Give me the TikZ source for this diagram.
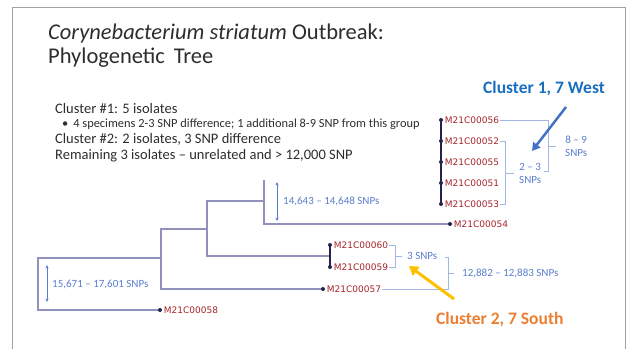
\documentclass[tikz,border=0pt]{standalone}
\usepackage{fontspec}
\setmainfont{Carlito}
\newfontfamily\leaffont{DejaVu Sans}
\usetikzlibrary{arrows.meta,positioning,backgrounds}
\definecolor{treeline}{RGB}{145,145,190}
\definecolor{navy}{RGB}{35,35,75}
\definecolor{leafred}{RGB}{165,35,40}
\definecolor{snpblue}{RGB}{90,125,205}
\definecolor{westblue}{RGB}{25,110,190}
\definecolor{westarrow}{RGB}{68,114,196}
\definecolor{southorange}{RGB}{237,125,49}
\definecolor{southarrow}{RGB}{255,192,0}
\definecolor{frame}{RGB}{160,160,160}
\definecolor{ink}{RGB}{45,45,45}
\tikzset{
    branch/.style = {
        draw=treeline,
        line width=1.3pt,
        },
    cluster/.style = {
        draw=navy,
        line width=1.3pt,
        },
    tip/.style = {
        circle,
        fill=navy,
        inner sep=0pt,
        minimum size=4pt,
        },
    leaf/.style = {
        text=leafred,
        font=\leaffont\fontsize{9}{10}\selectfont,
        inner sep=0.5pt,
        },
    snp/.style = {
        text=snpblue,
        font=\fontsize{11}{13}\selectfont,
        anchor=west,
        inner sep=0pt,
        align=center,
        },
    bracket/.style = {
        draw=snpblue!55,
        line width=0.7pt,
        },
    span/.style = {
        draw=snpblue,
        line width=0.7pt,
        {Stealth[length=3.5pt,width=3pt]}-{Stealth[length=3.5pt,width=3pt]},
        },
    note/.style = {
        anchor=base west,
        inner sep=0pt,
        text=ink,
        font=\fontsize{14.5}{16}\selectfont,
        },
    callout/.style = {
        anchor=base west,
        inner sep=0pt,
        font=\bfseries\fontsize{17.5}{20}\selectfont,
        },
}
\begin{document}
\begin{tikzpicture}[x=1pt,y=-1pt]
    \useasboundingbox (0,0) rectangle (627,349);
    \draw[frame, line width=0.8pt] (12,349) |- (625,7) -- (625,349);

    % title and notes
    \node[note, font=\fontsize{22.5}{26}\selectfont] (title1) at (48,39) {\textit{Corynebacterium striatum} Outbreak:};
    \node[note, font=\fontsize{22.5}{26}\selectfont] (title2) at (48,63) {Phylogenetic\, Tree};
    \node[note] (note1) at (55,113) {Cluster \#1: 5 isolates};
    \node[note, font=\fontsize{12.4}{14}\selectfont] (note2) at (62,127) {\textbullet\hspace{5pt}4 specimens 2-3 SNP difference; 1 additional 8-9 SNP from this group};
    \node[note] (note3) at (55,143) {Cluster \#2: 2 isolates, 3 SNP difference};
    \node[note] (note4) at (55,159) {Remaining 3 isolates -- unrelated and > 12,000 SNP};

    % tips
    \node[tip] (t56) at (441,120) {};
    \node[tip] (t52) at (441,141) {};
    \node[tip] (t55) at (441,162) {};
    \node[tip] (t51) at (441,183) {};
    \node[tip] (t53) at (441,204) {};
    \node[tip] (t54) at (450,224) {};
    \node[tip] (t60) at (330,245) {};
    \node[tip] (t59) at (330,267) {};
    \node[tip] (t57) at (323,289) {};
    \node[tip] (t58) at (160,310) {};

    \node[leaf, right=1pt of t56] (m56) {M21C00056};
    \node[leaf, right=1pt of t52] (m52) {M21C00052};
    \node[leaf, right=1pt of t55] (m55) {M21C00055};
    \node[leaf, right=1pt of t51] (m51) {M21C00051};
    \node[leaf, right=1pt of t53] (m53) {M21C00053};
    \node[leaf, right=1pt of t54] (m54) {M21C00054};
    \node[leaf, right=1pt of t60] (m60) {M21C00060};
    \node[leaf, right=1pt of t59] (m59) {M21C00059};
    \node[leaf, right=1pt of t57] (m57) {M21C00057};
    \node[leaf, right=1pt of t58] (m58) {M21C00058};

    % inner nodes of the tree
    \coordinate (r) at (38,284);
    \coordinate (a) at (161,258);
    \coordinate (b) at (207,229);
    \coordinate (c) at (264,201);
    \coordinate (cup) at (264,180);
    \coordinate (c2) at (330,256);

    \begin{scope}[on background layer]
        \draw[branch] (t58.center) -| (r) |- (a);
        \draw[branch] (t57.center) -| (a) |- (b);
        \draw[branch] (c2) -| (b) |- (c);
        \draw[branch] (t54.center) -| (c) -- (cup);
        \draw[cluster] (t56.center) -- (t53.center);
        \draw[cluster] (t60.center) -- (t59.center);
    \end{scope}

    % distances
    \coordinate (s1top) at (277,182);
    \coordinate (s1bot) at (277,221);
    \draw[span] (s1top) -- (s1bot);
    \node[snp] (l146) at (283,201) {14,643 -- 14,648 SNPs};
    \coordinate (s2top) at (47,265);
    \coordinate (s2bot) at (47,302);
    \draw[span] (s2top) -- (s2bot);
    \node[snp] (l156) at (52,284) {15,671 -- 17,601 SNPs};

    % cluster 1 brackets
    \coordinate (b23) at ([xshift=6pt]m53.east);
    \draw[bracket] (m52.east) -| (b23) -- (m53.east);
    \node[snp] (l23) at (519,173) {2 -- 3\\SNPs};
    \draw[bracket] (l23.west -| b23) -- ([xshift=-5pt]l23.west);
    \coordinate (b89) at (548,171);
    \draw[bracket] (m56.east) -| (b89) -- ++(-4,0);
    \node[snp] (l89) at (565,146) {8 -- 9\\SNPs};
    \draw[bracket] (l89.west -| b89) -- ([xshift=-9pt]l89.west);

    % cluster 2 brackets
    \coordinate (b3) at ([xshift=7pt]m59.east);
    \draw[bracket] (m60.east) -| (b3) -- (m59.east);
    \node[snp] (l3) at (407,256) {3 SNPs};
    \draw[bracket] (l3.west -| b3) -- ([xshift=-5pt]l3.west);
    \coordinate (b12) at (448,257);
    \draw[bracket] (m57.east) -| (b12) -- ++(-3,0);
    \node[snp] (l128) at (462,273) {12,882 -- 12,883 SNPs};
    \draw[bracket] (l128.west -| b12) -- ([xshift=-8pt]l128.west);

    % callouts
    \node[callout, text=westblue] (west) at (483,93) {Cluster 1, 7 West};
    \coordinate (wa) at (566,107);
    \coordinate (wb) at (532,151);
    \draw[westarrow, line width=2.5pt, -{Triangle[length=8pt,width=9pt]}] (wa) -- (wb);
    \node[callout, text=southorange] (south) at (436,324) {Cluster 2, 7 South};
    \coordinate (sa) at (454,299);
    \coordinate (sb) at (409,266);
    \draw[southarrow, line width=3pt, -{Triangle[length=9pt,width=11pt]}] (sa) -- (sb);
\end{tikzpicture}
\end{document}
